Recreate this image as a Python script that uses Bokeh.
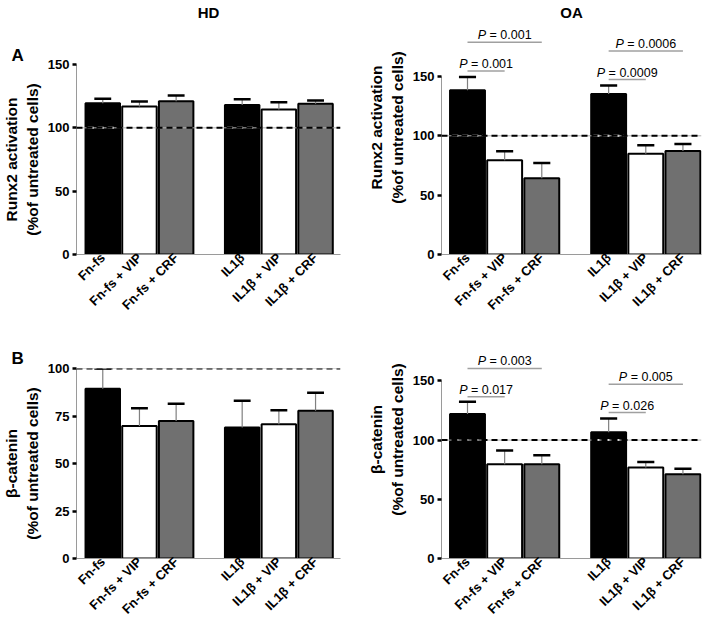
import math
from bokeh.plotting import figure
from bokeh.layouts import column, row
from bokeh.models import FixedTicker, Span, Range1d, Title
from bokeh.core.properties import value
from bokeh.embed import file_html
from bokeh.resources import INLINE

FONT = "Liberation Sans"

# ---------------- data ----------------
conditions = ["Fn-fs", "Fn-fs + VIP", "Fn-fs + CRF", "IL1β", "IL1β + VIP", "IL1β + CRF"]
group_of = [0, 0, 0, 1, 1, 1]
bar_fills = ["black", "white", "#707070", "black", "white", "#707070"]

runx2_hd_mean = [119.4, 116.8, 121.0, 118.0, 114.4, 119.0]
runx2_hd_sem = [3.5, 4.0, 4.5, 4.6, 5.8, 2.5]
runx2_oa_mean = [138.4, 79.4, 64.3, 135.3, 84.8, 87.3]
runx2_oa_sem = [11.2, 7.6, 12.7, 7.1, 7.3, 5.9]
bcat_hd_mean = [89.3, 69.8, 72.4, 68.9, 70.7, 77.7]
bcat_hd_sem = [10.7, 9.3, 9.1, 14.1, 7.3, 9.5]
bcat_oa_mean = [122.1, 79.6, 79.6, 106.7, 76.9, 71.2]
bcat_oa_sem = [10.2, 11.6, 7.5, 11.5, 4.7, 4.5]

p_from = [0, 0, 3, 3]
p_to = [2, 1, 5, 4]
runx2_oa_p_text = ["0.001", "0.001", "0.0006", "0.0009"]
runx2_oa_p_y = [178.9, 154.7, 171.5, 147.4]
bcat_oa_p_text = ["0.003", "0.017", "0.005", "0.026"]
bcat_oa_p_y = [160.5, 136.5, 147.2, 123.3]

reference_level = 100
runx2_ticks = [0, 50, 100, 150]
bcat_hd_ticks = [0, 25, 50, 75, 100]
bcat_oa_ticks = [0, 50, 100, 150]

# ---------------- layout constants ----------------
PERIOD = 5
GAP = 4
xs = [i * PERIOD + GAP * g for i, g in enumerate(group_of)]
BAR_W = 4.7
CAP_HALF = 1.15


def text_width(s, size):
    w = {' ': 0.278, '=': 0.584, '.': 0.278, 'P': 0.667}
    return sum(w.get(c, 0.556) for c in s) * size


def make_panel(means, sems, ylabel, y_end, axis_max, ticks, x_start, x_end,
               width, height, mbl, mbr, mbt, mbb, title=None, letter=None,
               letter_standoff=0, spacer_standoff=8, ptexts=None, pys=None):
    p = figure(width=width, height=height, title=None,
               x_range=Range1d(x_start, x_end), y_range=Range1d(0, y_end),
               output_backend="svg", toolbar_location=None,
               min_border_left=mbl, min_border_right=mbr,
               min_border_top=mbt, min_border_bottom=mbb,
               outline_line_color=None, background_fill_color="white",
               border_fill_color="white")
    if "frame_align" in p.properties():
        p.frame_align = False
    p.grid.visible = False
    frame_h = height - mbt - mbb
    ppu = frame_h / y_end

    # y axis
    ya = p.yaxis[0]
    ya.bounds = (0, axis_max)
    ya.ticker = FixedTicker(ticks=ticks)
    ya.axis_line_color = "#9a9a9a"
    ya.axis_line_width = 1
    ya.major_tick_line_color = "black"
    ya.major_tick_line_width = 2.5
    ya.major_tick_out = 4
    ya.major_tick_in = 0
    ya.minor_tick_line_color = None
    ya.major_label_text_font = FONT
    ya.major_label_text_font_style = "bold"
    ya.major_label_text_font_size = "13px"
    ya.major_label_text_color = "black"
    ya.major_label_standoff = 3
    ya.axis_label = ylabel
    ya.axis_label_text_font = FONT
    ya.axis_label_text_font_style = "bold"
    ya.axis_label_text_font_size = "15.5px"
    ya.axis_label_text_color = "black"
    ya.axis_label_standoff = 4

    # x axis
    xa = p.xaxis[0]
    xa.ticker = FixedTicker(ticks=xs)
    xa.major_label_overrides = {x: c for x, c in zip(xs, conditions)}
    xa.major_label_orientation = math.pi / 4
    xa.axis_line_color = "#9a9a9a"
    xa.major_tick_line_color = None
    xa.major_tick_out = 0
    xa.minor_tick_line_color = None
    xa.major_label_text_font = FONT
    xa.major_label_text_font_style = "bold"
    xa.major_label_text_font_size = "13px"
    xa.major_label_text_color = "black"
    xa.major_label_standoff = 1

    # bars
    p.vbar(x=xs, top=means, bottom=0, width=BAR_W, fill_color=bar_fills,
           line_color="black", line_width=2)
    tops = [m + s for m, s in zip(means, sems)]
    p.segment(x0=xs, x1=xs, y0=means, y1=tops, line_color="#808080", line_width=1.2)
    p.segment(x0=[x - CAP_HALF for x in xs], x1=[x + CAP_HALF for x in xs],
              y0=tops, y1=tops, line_color="black", line_width=2.5)

    # reference line
    p.add_layout(Span(location=reference_level, dimension="width",
                      line_color="#b0b0b0", line_width=1))
    p.add_layout(Span(location=reference_level, dimension="width",
                      line_color="black", line_width=2, line_dash="6 4"))
    bx = [x for x, m, f in zip(xs, means, bar_fills) if f == "black" and m > reference_level]
    if bx:
        p.segment(x0=[x - BAR_W / 2 + 0.3 for x in bx], x1=[x + BAR_W / 2 - 0.3 for x in bx],
                  y0=[reference_level] * len(bx), y1=[reference_level] * len(bx),
                  line_color="white", line_width=2, line_dash="6 4")

    # p-value annotations
    if ptexts:
        size = 12.5
        x0 = [xs[a] for a in p_from]
        x1 = [xs[b] for b in p_to]
        p.segment(x0=x0, x1=x1, y0=pys, y1=pys, line_color="#a0a0a0", line_width=1.5)
        cx = [(a + b) / 2 for a, b in zip(x0, x1)]
        ty = [y + 7 / ppu for y in pys]
        rest = ["= " + t for t in ptexts]
        wP = 0.667 * size + 0.278 * size
        W = [wP + text_width(r, size) for r in rest]
        p.text(x=cx, y=ty, text=["P"] * len(cx), x_offset=[-w / 2 for w in W],
               text_font=value(FONT), text_font_style="italic",
               text_font_size=value(f"{size}px"), text_align="left",
               text_baseline="alphabetic", text_color="black")
        p.text(x=cx, y=ty, text=rest, x_offset=[-w / 2 + wP for w in W],
               text_font=value(FONT), text_font_style="normal",
               text_font_size=value(f"{size}px"), text_align="left",
               text_baseline="alphabetic", text_color="black")

    if letter:
        p.add_layout(Title(text=letter, align="left", offset=-(mbl - 8),
                           standoff=letter_standoff, text_font=FONT,
                           text_font_style="bold", text_font_size="17px",
                           text_color="black"), "above")
    if title:
        if letter:
            p.add_layout(Title(text=" ", align="center", standoff=spacer_standoff,
                               text_font=FONT, text_font_size="15px"), "above")
            p.add_layout(Title(text=title, align="center", standoff=0,
                               text_font=FONT, text_font_style="bold",
                               text_font_size="15px", text_color="black"), "above")
        else:
            p.text(x=[(x_start + x_end) / 2], y=[y_end - 3 / ppu], text=[title],
                   text_font=value(FONT), text_font_style="bold",
                   text_font_size=value("15px"), text_align="center",
                   text_baseline="top", text_color="black")
    return p


ROW1_H = 320
ROW2_H = 307
HD_W, OA_W = 354, 355

pa_hd = make_panel(runx2_hd_mean, runx2_hd_sem, "Runx2 activation\n(%of untreated cells)",
                   150, 150, runx2_ticks, -3.58, 32.4, HD_W, ROW1_H, 73, 14, 64, 66,
                   title="HD", letter="A", letter_standoff=0, spacer_standoff=4)
pa_oa = make_panel(runx2_oa_mean, runx2_oa_sem, "Runx2 activation\n(%of untreated cells)",
                   214, 150, runx2_ticks, -3.5, 31.5, OA_W, ROW1_H, 87, 8, 0, 66,
                   title="OA", ptexts=runx2_oa_p_text, pys=runx2_oa_p_y)
pb_hd = make_panel(bcat_hd_mean, bcat_hd_sem, "β-catenin\n(%of untreated cells)",
                   100, 100, bcat_hd_ticks, -3.58, 32.4, HD_W, ROW2_H, 73, 14, 48, 69,
                   letter="B", letter_standoff=2)
pb_oa = make_panel(bcat_oa_mean, bcat_oa_sem, "β-catenin\n(%of untreated cells)",
                   201, 150, bcat_oa_ticks, -3.5, 31.5, OA_W, ROW2_H, 87, 8, 0, 69,
                   ptexts=bcat_oa_p_text, pys=bcat_oa_p_y)

layout = column(row(column(pa_hd), column(pa_oa)), row(column(pb_hd), column(pb_oa)))
open("out.html", "w").write(file_html(layout, INLINE))
